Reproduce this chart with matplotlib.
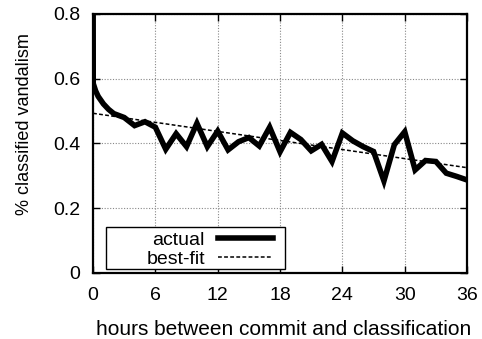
import matplotlib.pyplot as plt
import numpy as np
from matplotlib.patches import Rectangle

plt.rcParams['font.family'] = ['Liberation Sans', 'DejaVu Sans']

# fraction of edits classified as vandalism vs. hours since commit
hours = [0, 0.02, 0.25, 0.5, 1, 1.5, 2, 3, 4, 5, 6, 7, 8, 9, 10, 11, 12, 13, 14, 15, 16, 17,
         18, 19, 20, 21, 22, 23, 24, 25, 26, 27, 28, 29, 30, 31, 32, 33, 34, 35, 36]
actual = [1.2, 0.585, 0.562, 0.545, 0.522, 0.505, 0.492, 0.48, 0.455, 0.467, 0.45, 0.382,
          0.43, 0.39, 0.462, 0.39, 0.438, 0.38, 0.405, 0.418, 0.392, 0.45, 0.374, 0.434,
          0.412, 0.377, 0.397, 0.344, 0.432, 0.408, 0.39, 0.375, 0.284, 0.396, 0.436,
          0.318, 0.347, 0.344, 0.308, 0.298, 0.287]

# linear fit end points
fit_x = [0, 36]
fit_y = [0.493, 0.325]

x_ticks = [0, 6, 12, 18, 24, 30, 36]
y_ticks = [0, 0.2, 0.4, 0.6, 0.8]
y_labels = ['0', '0.2', '0.4', '0.6', '0.8']

fs = 14

fig = plt.figure(figsize=(4.82, 3.39), dpi=100)
ax = fig.add_axes([0.193, 0.195, 0.776, 0.764])

ax.plot(hours, actual, color='black', lw=4, solid_joinstyle='miter', label='actual', zorder=3)
ax.plot(fit_x, fit_y, color='black', lw=1.1, linestyle=(0, (2.5, 1.5)), label='best-fit', zorder=4)

ax.set_xlim(0, 36)
ax.set_ylim(0, 0.8)
ax.set_xticks(x_ticks)
ax.set_yticks(y_ticks)
ax.set_yticklabels(y_labels)
ax.grid(True, color='#888888', linestyle=(0, (1, 1.5)), linewidth=0.8)
ax.tick_params(direction='in', length=5, width=1, labelsize=fs, top=True, right=True)
ax.tick_params(axis='x', pad=10.5)
ax.tick_params(axis='y', pad=9)
for s in ax.spines.values():
    s.set_linewidth(1.6)

ax.set_xlabel('hours between commit and classification', fontsize=15)
ax.xaxis.set_label_coords(0.51, -0.18)
ax.set_ylabel('% classified vandalism', fontsize=13)
ax.yaxis.set_label_coords(-0.16, 0.575)

# legend box drawn separately so the padding matches gnuplot's wide key
ax.add_patch(Rectangle((0.035, 0.0154), 0.4786, 0.162, transform=ax.transAxes,
                       facecolor='white', edgecolor='black', lw=1.0, zorder=4.9))
leg = ax.legend(loc='lower right', bbox_to_anchor=(0.481, 0.02), markerfirst=False,
                frameon=False, fontsize=fs, handlelength=2.83, borderpad=0,
                labelspacing=0.08, handletextpad=0.67, borderaxespad=0)
leg.set_zorder(6)

fig.savefig('out.png', dpi=100)
